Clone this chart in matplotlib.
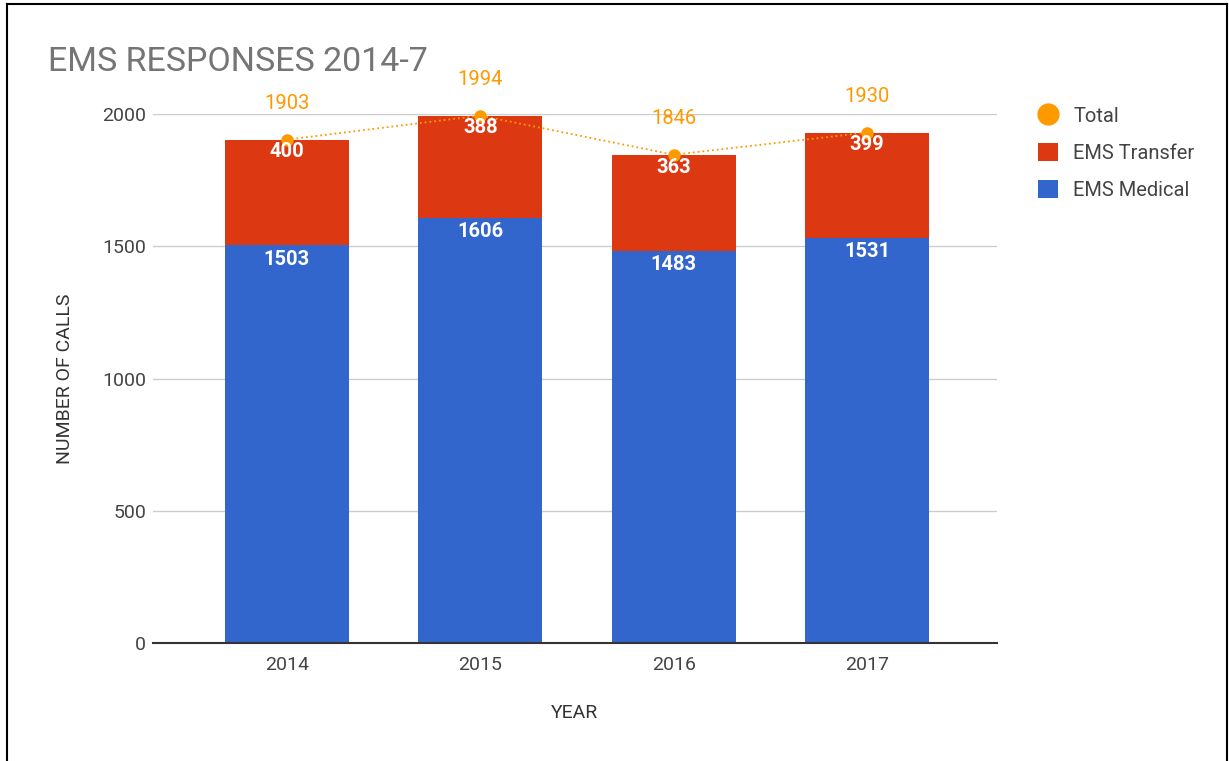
import matplotlib.pyplot as plt
from matplotlib.lines import Line2D
from matplotlib.patches import Patch

years = ['2014', '2015', '2016', '2017']
medical = [1503, 1606, 1483, 1531]
transfer = [400, 388, 363, 399]
total = [1903, 1994, 1846, 1930]

BLUE = '#3366CC'
RED = '#DC3912'
ORANGE = '#FF9900'
GRAY = '#757575'

plt.rcParams['font.family'] = ['Roboto', 'DejaVu Sans']

W, H = 1229, 761
fig = plt.figure(figsize=(W / 100, H / 100), dpi=100)

# plot area in pixels: x 153..997, y(0)=643, y(2000)=114
ax = fig.add_axes([153 / W, 1 - 643 / H, (997 - 153) / W, (643 - 114) / H])

x = list(range(len(years)))
ax.bar(x, medical, width=0.64, color=BLUE, zorder=2)
ax.bar(x, transfer, width=0.64, bottom=medical, color=RED, zorder=2)
ax.plot(x, total, color=ORANGE, linestyle=':', linewidth=1.3, marker='o',
        markersize=8, zorder=3, clip_on=False)

for i in x:
    ax.annotate(str(medical[i]), (i, medical[i]), xytext=(0, -3), textcoords='offset points',
                ha='center', va='top', color='white', fontsize=14.5, fontweight='bold', zorder=4)
    ax.annotate(str(transfer[i]), (i, total[i]), xytext=(0, -2), textcoords='offset points',
                ha='center', va='top', color='white', fontsize=14.5, fontweight='bold', zorder=4)
    ax.annotate(str(total[i]), (i, total[i]), xytext=(0, 19), textcoords='offset points',
                ha='center', va='bottom', color=ORANGE, fontsize=14.5, zorder=4, annotation_clip=False)

ax.set_xlim(-0.693, 3.672)
ax.set_ylim(0, 2000)
ax.set_yticks([0, 500, 1000, 1500, 2000])
ax.set_xticks(x)
ax.set_xticklabels(years)
ax.yaxis.grid(True, color='#cccccc', linewidth=1, zorder=0)
ax.set_axisbelow(True)
for s in ['top', 'right', 'left']:
    ax.spines[s].set_visible(False)
ax.spines['bottom'].set_color('#333333')
ax.spines['bottom'].set_linewidth(1.5)
ax.spines['bottom'].set_zorder(5)
ax.tick_params(axis='both', length=0, labelsize=14, labelcolor='#444444')
ax.tick_params(axis='y', pad=5)
ax.tick_params(axis='x', pad=9)

ax.set_xlabel('YEAR', fontsize=14, color='#333333', labelpad=22)
ax.set_ylabel('NUMBER OF CALLS', fontsize=14, color='#333333', labelpad=20)

fig.text(48 / W, 1 - 62 / H, 'EMS RESPONSES 2014-7', fontsize=24.5, color=GRAY,
         ha='left', va='center')

handles = [
    Line2D([], [], marker='o', linestyle='none', color=ORANGE, markersize=15),
    Patch(facecolor=RED),
    Patch(facecolor=BLUE),
]
fig.legend(handles, ['Total', 'EMS Transfer', 'EMS Medical'], loc='upper left',
           bbox_to_anchor=(1020 / W, 1 - 88 / H), frameon=False, fontsize=14.5,
           labelcolor='#444444', handlelength=1.0, handleheight=1.0,
           labelspacing=0.85, handletextpad=0.75)

# frame around the screenshot
fig.add_artist(Line2D([7 / W, 7 / W], [0, 1 - 4 / H], color='black', linewidth=1.5))
fig.add_artist(Line2D([7 / W, 1227 / W], [1 - 4 / H, 1 - 4 / H], color='black', linewidth=1.5))
fig.add_artist(Line2D([1227 / W, 1227 / W], [0, 1 - 4 / H], color='black', linewidth=1.5))

fig.savefig('out.png', dpi=100)
